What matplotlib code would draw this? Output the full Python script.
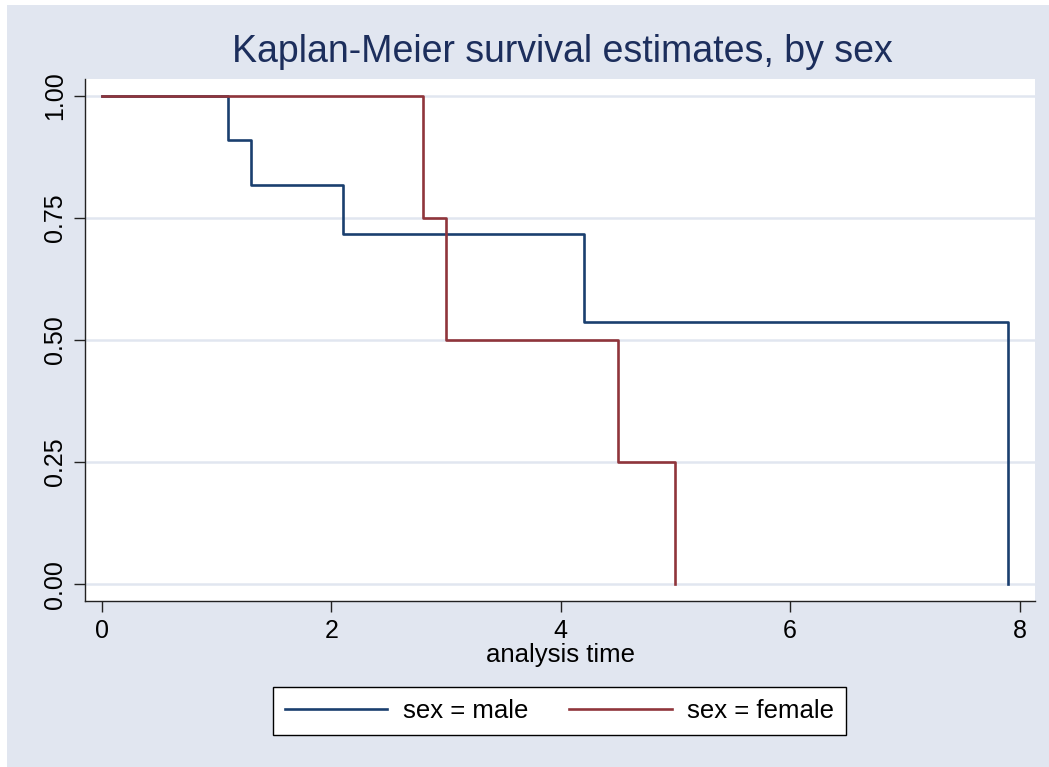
import matplotlib
matplotlib.use("Agg")
import matplotlib.pyplot as plt
from matplotlib.patches import Rectangle

plt.rcParams['font.family'] = ['Liberation Sans', 'DejaVu Sans']

# Kaplan-Meier estimates
male_time = [0, 1.1, 1.3, 2.1, 4.2, 7.9]
male_surv = [1.0, 0.909, 0.818, 0.716, 0.537, 0.0]
female_time = [0, 2.8, 3.0, 4.5, 5.0]
female_surv = [1.0, 0.75, 0.50, 0.25, 0.0]

x_ticks = [0, 2, 4, 6, 8]
y_ticks = [0.0, 0.25, 0.5, 0.75, 1.0]
y_labels = ['0.00', '0.25', '0.50', '0.75', '1.00']

bg = '#E1E6F0'
navy = '#1A3F6F'
maroon = '#90353B'

W, H = 1049, 767
fig = plt.figure(figsize=(W / 100, H / 100), dpi=100)
fig.patch.set_facecolor('white')
fig.patches.append(Rectangle((7 / W, 0), 1 - 7 / W, 1 - 5 / H, transform=fig.transFigure,
                             facecolor=bg, edgecolor='none', zorder=-10))

ax = fig.add_axes([85 / W, 1 - 600.7 / H, 950 / W, 521.7 / H])
ax.set_facecolor('white')

ax.step(male_time, male_surv, where='post', color=navy, lw=1.9, label='sex = male', zorder=3)
ax.step(female_time, female_surv, where='post', color=maroon, lw=1.9, label='sex = female', zorder=4)

ax.set_xlim(-0.148, 8.135)
ax.set_ylim(-0.034, 1.034)
ax.set_xticks(x_ticks)
ax.set_yticks(y_ticks)
ax.set_yticklabels(y_labels, rotation=90, va='center')
ax.grid(axis='y', color=bg, lw=1.8, zorder=1)
ax.set_axisbelow(True)

for s in ['top', 'right']:
    ax.spines[s].set_visible(False)
for s in ['left', 'bottom']:
    ax.spines[s].set_color('#222222')
    ax.spines[s].set_linewidth(1.0)

ax.tick_params(axis='both', direction='out', length=8, width=1, color='#222222',
               labelsize=18, pad=5)

ax.set_xlabel('analysis time', fontsize=18.5, labelpad=0)
fig.text(562.5 / W, 1 - 52 / H, 'Kaplan-Meier survival estimates, by sex',
         ha='center', va='center', fontsize=27, color='#1C2E5C')

leg = fig.legend(loc='center', bbox_to_anchor=(559.5 / W, 1 - 711 / H), ncol=2,
                 fontsize=18.5, frameon=True, fancybox=False, framealpha=1,
                 handlelength=4.0, handletextpad=0.6, columnspacing=1.6,
                 borderpad=0.45, borderaxespad=0)
leg.get_frame().set_edgecolor('black')
leg.get_frame().set_linewidth(1.0)
leg.get_frame().set_facecolor('white')

fig.savefig('out.png', dpi=100, facecolor=fig.get_facecolor())
